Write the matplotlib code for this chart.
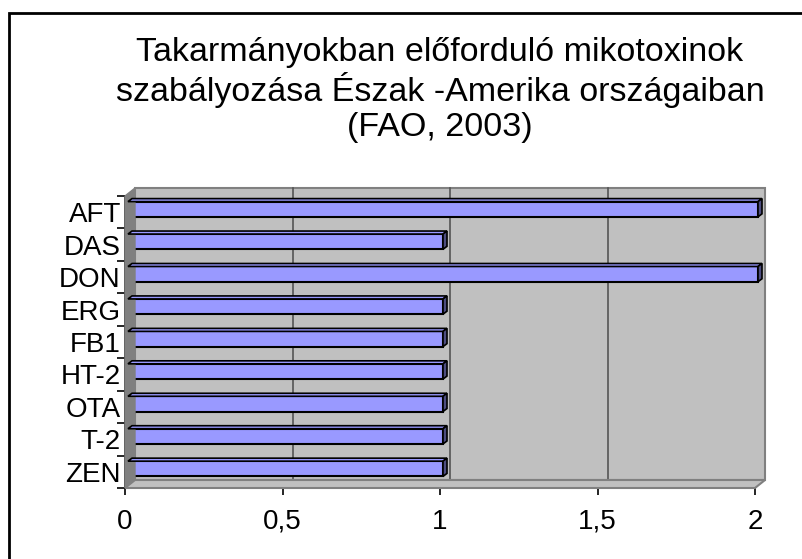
import matplotlib.pyplot as plt
from matplotlib.patches import Rectangle, Polygon
from matplotlib.transforms import offset_copy
import numpy as np

plt.rcParams['font.family'] = ['Liberation Sans', 'DejaVu Sans']

# Adatok
mycotoxins = ['AFT', 'DAS', 'DON', 'ERG', 'FB1', 'HT-2', 'OTA', 'T-2', 'ZEN']
countries = [2, 1, 2, 1, 1, 1, 1, 1, 1]
x_ticks = [0, 0.5, 1, 1.5, 2]
x_tick_labels = ['0', '0,5', '1', '1,5', '2']
title = 'Takarmányokban előforduló mikotoxinok\nszabályozása Észak -Amerika országaiban\n(FAO, 2003)'

W, H = 802, 559
WALL = '#C0C0C0'
SIDE = '#808080'
BAR = '#9999FF'
BAR_SIDE = '#4D4D80'
DEPTH = (10, 8)      # hátsó fal eltolása (pixel)
BAR_OFF = (3, 3)     # oszlopok eltolása
BAR_DEPTH = (4, 3)

fig = plt.figure(figsize=(W / 100, H / 100), dpi=100)
ax = fig.add_axes([125 / W, 1 - 488 / H, 630 / W, 292 / H])
ax.set_facecolor('none')
n = len(mycotoxins)
y = np.arange(n)
ax.set_xlim(0, 2)
ax.set_ylim(n - 0.5, -0.5)

# hátsó fal, oldalfal, padló
back = offset_copy(ax.transData, fig=fig, x=DEPTH[0], y=DEPTH[1], units='dots')
ax.add_patch(Rectangle((0, -0.5), 2, n, transform=back, facecolor=WALL,
                       edgecolor=SIDE, lw=1.5, clip_on=False, zorder=0))

def pix(x, yy):
    return ax.transData.transform((x, yy))

def shifted(p, d):
    return (p[0] + d[0], p[1] + d[1])

fb = pix(0, n - 0.5)
ft = pix(0, -0.5)
fr = pix(2, n - 0.5)
side = Polygon([fb, ft, shifted(ft, DEPTH), shifted(fb, DEPTH)], closed=True,
               transform=None, facecolor=SIDE, edgecolor=SIDE, lw=1, zorder=0.5)
fig.patches.append(side)
floor = Polygon([fb, fr, shifted(fr, DEPTH), shifted(fb, DEPTH)], closed=True,
                transform=None, facecolor=WALL, edgecolor=SIDE, lw=1.5, zorder=0.5)
fig.patches.append(floor)

# rácsvonalak
for xv in x_ticks[1:-1]:
    ax.plot([xv, xv], [-0.5, n - 0.5], transform=back, color='#555555', lw=1.2,
            clip_on=False, zorder=1)
    p = pix(xv, n - 0.5)
    ax.plot([p[0], p[0] + DEPTH[0]], [p[1], p[1] + DEPTH[1]], transform=None,
            color='#333333', lw=1, zorder=1)

# oszlopok
bar_tr = offset_copy(ax.transData, fig=fig, x=BAR_OFF[0], y=BAR_OFF[1], units='dots')
bars = ax.barh(y, countries, height=0.47, color=BAR, edgecolor='black', lw=1.5, zorder=3)
for b in bars:
    b.set_transform(bar_tr)
    b.set_clip_on(False)
    x0, y0 = b.get_x(), b.get_y()
    x1, y1 = x0 + b.get_width(), y0 + b.get_height()
    tl = bar_tr.transform((x0, y0))
    tr = bar_tr.transform((x1, y0))
    br = bar_tr.transform((x1, y1))
    top = Polygon([tl, tr, shifted(tr, BAR_DEPTH), shifted(tl, BAR_DEPTH)], closed=True,
                  transform=None, facecolor=BAR, edgecolor='black', lw=1.2, zorder=2.5)
    rside = Polygon([tr, br, shifted(br, BAR_DEPTH), shifted(tr, BAR_DEPTH)], closed=True,
                    transform=None, facecolor=BAR_SIDE, edgecolor='black', lw=1.2, zorder=2.5)
    fig.patches.extend([top, rside])

# tengelyek
for s in ['top', 'right']:
    ax.spines[s].set_visible(False)
for s in ['left', 'bottom']:
    ax.spines[s].set_color('black')
    ax.spines[s].set_linewidth(1.2)
    ax.spines[s].set_zorder(4)

ax.set_xticks(x_ticks)
ax.set_xticklabels(x_tick_labels, fontsize=20)
ax.tick_params(axis='x', length=5, width=1.2, pad=10)
ax.set_yticks(y)
ax.set_yticklabels(mycotoxins, fontsize=20)
ax.set_yticks(np.arange(n + 1) - 0.5, minor=True)
ax.tick_params(axis='y', which='major', length=0, pad=3)
ax.tick_params(axis='y', which='minor', length=6, width=1.2)

fig.text(440 / W, 1 - 90 / H, title, ha='center', va='center', fontsize=24.5,
         linespacing=1.15)

# keret
fig.patches.append(Rectangle((8.5, -20), 820, H - 12.5 + 20, transform=None,
                             fill=False, edgecolor='black', lw=2))

fig.savefig('out.png', dpi=100)
